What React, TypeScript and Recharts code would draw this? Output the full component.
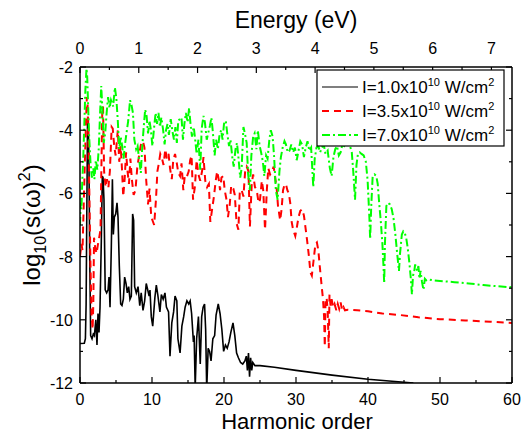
import React from 'react';
import { LineChart, Line, XAxis, YAxis } from 'recharts';

const FONT = '"Liberation Sans", Arial, Helvetica, sans-serif';

// axis ticks
const HARMONIC_TICKS = [0, 5, 10, 15, 20, 25, 30, 35, 40, 45, 50, 55, 60];
const ENERGY_TICKS = [0, 0.5, 1, 1.5, 2, 2.5, 3, 3.5, 4, 4.5, 5, 5.5, 6, 6.5, 7];
const LOG_TICKS = [-12, -11, -10, -9, -8, -7, -6, -5, -4, -3, -2];
const HARMONIC_MAX = 60;
const ENERGY_MAX = 7.35; // eV at harmonic 60

// legend: intensity in units of 10^10 W/cm^2
const INTENSITIES = ['1.0', '3.5', '7.0'];
const COLORS = ['#000000', '#ff0000', '#00ff00'];

// [harmonic order, log10 |s(w)|^2]
const BLACK_PTS: [number, number][] = [
    [0, -10.75], [0.6, -10.74], [0.75, -10.6], [0.85, -9.5], [0.95, -6.5], [1.05, -3.7], [1.15, -3.6],
    [1.25, -5.2], [1.35, -8.0], [1.48, -10.5], [1.67, -10.6], [1.85, -10.45], [2.0, -10.5], [2.2, -10.0],
    [2.36, -10.8], [2.5, -9.8], [2.64, -10.4], [2.78, -9.6], [2.96, -7.5], [3.1, -5.45], [3.2, -5.5],
    [3.33, -6.2], [3.5, -9.05], [3.7, -9.15], [3.9, -9.05], [4.03, -8.65], [4.17, -9.6], [4.35, -7.7],
    [4.5, -5.55], [4.63, -7.3], [4.77, -6.75], [4.96, -6.65], [5.14, -6.3], [5.28, -6.75], [5.46, -8.3],
    [5.65, -9.5], [5.83, -9.55], [6.02, -9.35], [6.2, -8.65], [6.39, -8.85], [6.57, -9.15], [6.76, -8.95],
    [6.94, -9.35], [7.13, -9.25], [7.31, -6.65], [7.45, -6.85], [7.59, -8.95], [7.82, -9.15], [8.06, -8.95],
    [8.3, -9.55], [8.5, -9.15], [8.75, -9.7], [8.98, -9.4], [9.2, -8.85], [9.4, -9.05], [9.6, -9.25],
    [9.72, -9.06], [9.9, -9.9], [10.1, -10.2], [10.4, -9.3], [10.6, -8.9], [10.8, -9.2], [11.1, -9.75],
    [11.3, -9.2], [11.55, -9.35], [11.8, -9.15], [12.0, -9.6], [12.3, -9.75], [12.5, -11.15], [12.75, -10.1],
    [13.0, -9.75], [13.2, -9.25], [13.45, -9.4], [13.6, -10.6], [13.9, -11.05], [14.15, -10.2], [14.4, -9.9],
    [14.6, -9.6], [14.85, -9.4], [15.1, -9.5], [15.3, -9.4], [15.5, -9.8], [15.75, -10.7], [15.85, -10.5],
    [16.0, -12.15], [16.2, -10.6], [16.45, -9.9], [16.7, -11.4], [16.9, -9.9], [17.1, -9.6], [17.3, -9.5],
    [17.45, -10.3], [17.6, -12.2], [17.8, -10.9], [18.0, -11.0], [18.2, -11.3], [18.45, -10.6], [18.7, -10.5],
    [18.9, -9.85], [19.2, -9.5], [19.45, -9.8], [19.7, -10.3], [19.95, -11.0], [20.2, -10.8], [20.45, -10.9],
    [20.7, -10.7], [20.95, -10.4], [21.25, -10.1], [21.5, -10.5], [21.75, -11.05], [22.0, -11.2], [22.3, -11.35],
    [22.6, -11.4], [22.9, -11.3], [23.1, -11.15], [23.25, -11.6], [23.4, -11.05], [23.55, -11.8], [23.7, -11.2],
    [23.85, -11.6], [24.0, -11.35], [24.3, -11.45], [25.0, -11.45], [27.0, -11.5], [30.0, -11.6], [35.0, -11.75],
    [40.0, -11.88], [46.3, -12.0],
];

const RED_PTS: [number, number][] = [
    [0, -8.0], [0.2, -7.6], [0.35, -7.8], [0.5, -6.5], [0.7, -4.8], [0.85, -3.6], [0.95, -2.95], [1.05, -3.2],
    [1.15, -4.2], [1.3, -6.0], [1.45, -8.2], [1.6, -9.8], [1.75, -10.3], [1.85, -9.5], [1.95, -7.4], [2.1, -7.7],
    [2.3, -7.9], [2.5, -7.6], [2.7, -7.35], [2.85, -7.15], [2.95, -5.5], [3.1, -3.3], [3.2, -3.25], [3.35, -5.3],
    [3.55, -5.8], [3.75, -5.55], [3.95, -5.8], [4.15, -5.3], [4.4, -3.9], [4.55, -3.95], [4.75, -4.5], [4.95, -4.8],
    [5.25, -4.0], [5.45, -5.0], [5.65, -4.5], [5.85, -5.3], [6.0, -6.1], [6.2, -5.55], [6.4, -4.7], [6.6, -5.3],
    [6.8, -5.7], [7.0, -4.9], [7.2, -5.55], [7.45, -6.05], [7.7, -5.9], [7.95, -5.2], [8.2, -4.8], [8.5, -4.4],
    [8.75, -4.35], [8.95, -4.55], [9.2, -5.6], [9.45, -6.35], [9.65, -5.85], [9.9, -6.75], [10.3, -7.0],
    [10.55, -6.2], [10.75, -5.3], [10.95, -5.05], [11.15, -4.75], [11.4, -4.9], [11.6, -5.1], [11.85, -4.6],
    [12.05, -4.9], [12.3, -4.75], [12.5, -5.2], [12.75, -5.55], [12.95, -4.95], [13.2, -4.75], [13.45, -5.05],
    [13.65, -5.35], [13.9, -5.45], [14.1, -5.05], [14.35, -5.9], [14.55, -5.45], [14.8, -5.5], [15.1, -5.3],
    [15.3, -4.95], [15.5, -4.8], [15.7, -6.2], [15.95, -5.8], [16.2, -4.95], [16.45, -5.4], [16.7, -5.6],
    [16.95, -5.3], [17.15, -4.85], [17.4, -5.6], [17.65, -5.8], [17.9, -5.7], [18.1, -6.9], [18.35, -6.5],
    [18.6, -6.1], [18.85, -5.6], [19.05, -5.3], [19.3, -5.6], [19.45, -5.9], [19.65, -5.5], [19.9, -5.45],
    [20.1, -5.9], [20.35, -6.2], [20.55, -6.75], [20.8, -6.35], [21.0, -5.75], [21.3, -5.85], [21.5, -6.05],
    [21.75, -6.95], [22.0, -7.15], [22.2, -5.9], [22.45, -5.9], [22.7, -6.1], [22.95, -5.25], [23.15, -5.15],
    [23.4, -5.3], [23.6, -7.05], [23.85, -5.7], [24.05, -5.4], [24.3, -5.8], [24.55, -5.9], [24.8, -6.3],
    [25.0, -6.2], [25.25, -5.6], [25.45, -5.9], [25.7, -7.15], [25.95, -5.9], [26.15, -5.2], [26.4, -5.4],
    [26.65, -5.3], [26.9, -5.15], [27.1, -5.5], [27.3, -5.8], [27.5, -6.4], [27.8, -6.85], [28.0, -6.5],
    [28.2, -5.9], [28.4, -5.73], [28.6, -5.7], [28.8, -5.9], [29.0, -6.0], [29.2, -6.3], [29.4, -6.9],
    [29.6, -7.15], [29.9, -7.35], [30.1, -7.1], [30.35, -6.75], [30.6, -6.55], [30.85, -6.5], [31.1, -6.7],
    [31.3, -7.05], [31.55, -7.5], [31.8, -8.0], [32.0, -8.5], [32.2, -8.6], [32.45, -8.1], [32.7, -7.6],
    [32.9, -7.55], [33.1, -7.8], [33.3, -8.3], [33.55, -8.9], [33.75, -9.35], [33.9, -9.9], [34.0, -10.85],
    [34.1, -9.4], [34.25, -9.3], [34.4, -9.7], [34.55, -10.9], [34.65, -9.2], [34.8, -9.55], [34.95, -9.35],
    [35.15, -9.6], [35.35, -9.5], [35.6, -9.7], [35.8, -9.5], [36.0, -9.65], [36.2, -9.45], [36.4, -9.7],
    [36.6, -9.6], [36.8, -9.7], [37.2, -9.68], [38.5, -9.7], [40.0, -9.73], [42.0, -9.8], [44.5, -9.85],
    [47.0, -9.92], [50.0, -9.98], [53.5, -10.02], [57.0, -10.06], [60.0, -10.1],
];

const GREEN_PTS: [number, number][] = [
    [0, -7.0], [0.1, -6.3], [0.2, -6.5], [0.3, -5.7], [0.45, -4.9], [0.6, -3.8], [0.75, -2.7], [0.9, -2.05],
    [1.0, -2.3], [1.1, -3.0], [1.25, -4.1], [1.45, -5.0], [1.65, -5.5], [1.85, -5.2], [2.0, -5.55], [2.2, -4.95],
    [2.4, -5.25], [2.6, -4.6], [2.8, -3.4], [2.95, -2.6], [3.1, -3.3], [3.3, -4.4], [3.5, -4.1], [3.7, -3.45],
    [3.9, -2.95], [4.1, -3.3], [4.3, -3.05], [4.6, -3.25], [4.85, -2.65], [5.05, -3.0], [5.25, -3.7], [5.45, -4.6],
    [5.65, -4.2], [5.85, -4.5], [6.05, -4.9], [6.25, -4.45], [6.45, -4.1], [6.7, -3.7], [6.95, -3.05], [7.15, -3.2],
    [7.35, -3.45], [7.55, -4.3], [7.8, -4.6], [8.0, -4.5], [8.2, -4.9], [8.45, -5.35], [8.65, -4.5], [8.85, -3.9],
    [9.05, -3.35], [9.25, -3.55], [9.45, -4.1], [9.65, -3.7], [9.85, -4.0], [10.05, -4.5], [10.3, -3.9],
    [10.5, -3.45], [10.7, -3.8], [10.9, -3.45], [11.1, -3.9], [11.3, -3.6], [11.55, -4.0], [11.75, -4.45],
    [11.95, -4.0], [12.15, -3.8], [12.35, -4.15], [12.6, -3.65], [12.85, -4.05], [13.05, -4.3], [13.25, -3.9],
    [13.45, -4.4], [13.65, -3.7], [13.85, -3.65], [14.1, -3.6], [14.3, -4.3], [14.5, -3.8], [14.7, -3.45],
    [14.95, -3.75], [15.15, -3.3], [15.35, -3.8], [15.55, -4.2], [15.8, -3.9], [16.0, -4.3], [16.2, -4.75],
    [16.45, -4.3], [16.7, -5.25], [16.9, -3.95], [17.15, -3.55], [17.35, -3.75], [17.6, -4.3], [17.8, -4.1],
    [18.05, -3.85], [18.25, -3.6], [18.45, -4.05], [18.7, -4.8], [18.9, -4.3], [19.15, -4.6], [19.35, -4.2],
    [19.6, -4.0], [19.8, -4.3], [20.0, -3.8], [20.25, -3.7], [20.45, -4.1], [20.7, -4.5], [20.9, -4.3],
    [21.15, -4.85], [21.35, -5.15], [21.6, -4.6], [21.8, -4.4], [22.0, -4.85], [22.25, -5.5], [22.45, -5.2],
    [22.7, -3.9], [22.9, -4.1], [23.15, -4.4], [23.35, -5.4], [23.6, -5.9], [23.8, -4.8], [24.05, -4.2],
    [24.25, -4.1], [24.5, -4.6], [24.7, -4.0], [24.95, -4.5], [25.15, -4.7], [25.4, -5.0], [25.6, -5.45],
    [25.85, -4.8], [26.05, -4.9], [26.3, -4.3], [26.5, -4.0], [26.75, -4.2], [26.95, -4.8], [27.2, -5.9],
    [27.45, -6.2], [27.7, -5.3], [27.9, -4.85], [28.15, -4.55], [28.4, -4.35], [28.6, -4.45], [28.85, -4.7],
    [29.1, -4.65], [29.35, -4.45], [29.6, -4.7], [29.85, -4.55], [30.1, -4.95], [30.35, -4.65], [30.6, -4.35],
    [30.85, -4.45], [31.1, -4.85], [31.35, -4.55], [31.6, -4.35], [31.85, -4.65], [32.1, -4.55], [32.4, -5.8],
    [32.6, -4.9], [32.85, -4.55], [33.1, -4.5], [33.35, -4.7], [33.6, -4.55], [33.85, -4.45], [34.1, -4.75],
    [34.4, -4.65], [34.7, -5.2], [34.95, -5.45], [35.2, -4.85], [35.45, -4.6], [35.7, -4.5], [35.95, -4.8],
    [36.2, -4.7], [36.45, -4.45], [36.7, -4.5], [36.95, -4.4], [37.2, -4.45], [37.5, -4.5], [37.75, -4.7],
    [37.95, -5.3], [38.2, -6.2], [38.4, -5.1], [38.6, -4.75], [38.85, -4.7], [39.1, -4.75], [39.4, -4.8],
    [39.7, -5.0], [39.95, -5.6], [40.2, -6.8], [40.3, -7.45], [40.45, -6.4], [40.65, -5.45], [40.9, -5.4],
    [41.15, -5.45], [41.35, -5.7], [41.55, -6.3], [41.8, -6.95], [42.0, -7.6], [42.15, -8.3], [42.25, -8.85],
    [42.35, -7.6], [42.55, -6.4], [42.8, -6.3], [43.05, -6.35], [43.3, -6.5], [43.55, -6.8], [43.8, -7.3],
    [44.05, -7.9], [44.3, -8.45], [44.45, -7.9], [44.7, -7.3], [44.9, -7.2], [45.1, -7.25], [45.3, -7.4],
    [45.5, -7.7], [45.75, -8.2], [45.95, -8.7], [46.1, -9.2], [46.25, -8.6], [46.4, -8.5], [46.55, -8.25],
    [46.7, -8.35], [46.85, -8.45], [47.0, -8.3], [47.15, -8.7], [47.3, -8.45], [47.5, -8.8], [47.7, -9.05],
    [47.9, -8.7], [48.1, -8.75], [48.4, -8.72], [49.0, -8.75], [50.0, -8.77], [52.0, -8.81], [54.0, -8.85],
    [56.0, -8.9], [58.0, -8.94], [60.0, -8.97],
];

// e = photon energy of the same harmonic, so a series can also live on the top/right axes
const toRows = (pts: [number, number][]) =>
    pts.map(([h, v]) => ({ h, e: (h * ENERGY_MAX) / HARMONIC_MAX, v }));

const DASHES = [undefined, '7 5', '8 3 2 3'];
const X_AXIS_OF = ['h', 'h', 'e'];
const Y_AXIS_OF = ['l', 'l', 'r'];

// ticks drawn pointing into the plot, labels only on major ticks
const BottomTick = ({ x, y, payload }: any) => {
    const major = payload.value % 10 === 0;
    return (
        <g>
            <line x1={x} y1={y} x2={x} y2={y - (major ? 6 : 3)} stroke="#000" strokeWidth={1.2} />
            {major && (
                <text x={x} y={y + 22} textAnchor="middle" fontSize={16} fontFamily={FONT} fill="#000">
                    {payload.value}
                </text>
            )}
        </g>
    );
};

const TopTick = ({ x, y, payload }: any) => {
    const major = Number.isInteger(payload.value);
    return (
        <g>
            <line x1={x} y1={y} x2={x} y2={y + (major ? 6 : 3)} stroke="#000" strokeWidth={1.2} />
            {major && (
                <text x={x} y={y - 13} textAnchor="middle" fontSize={16} fontFamily={FONT} fill="#000">
                    {payload.value}
                </text>
            )}
        </g>
    );
};

const LeftTick = ({ x, y, payload }: any) => {
    const major = payload.value % 2 === 0;
    return (
        <g>
            <line x1={x} y1={y} x2={x + (major ? 6 : 3)} y2={y} stroke="#000" strokeWidth={1.2} />
            {major && (
                <text x={x - 7} y={y + 6} textAnchor="end" fontSize={16} fontFamily={FONT} fill="#000">
                    {payload.value}
                </text>
            )}
        </g>
    );
};

const RightTick = ({ x, y, payload }: any) => {
    const major = payload.value % 2 === 0;
    return <line x1={x} y1={y} x2={x - (major ? 6 : 3)} y2={y} stroke="#000" strokeWidth={1.2} />;
};

const Overlay = () => (
    <svg
        width={522}
        height={435}
        style={{ position: 'absolute', left: 0, top: 0, pointerEvents: 'none' }}
        fontFamily={FONT}
    >
        <text x={296} y={28} textAnchor="middle" fontSize={23} fill="#000">Energy (eV)</text>
        <text x={297} y={429} textAnchor="middle" fontSize={22} fill="#000">Harmonic order</text>
        <text x={40} y={225} textAnchor="middle" fontSize={24} fill="#000" transform="rotate(-90 40 225)">
            log<tspan dy={6} fontSize={16}>10</tspan>
            <tspan dy={-6}>(s(ω)</tspan>
            <tspan dy={-10} fontSize={16}>2</tspan>
            <tspan dy={10}>)</tspan>
        </text>

        {/* legend */}
        <rect x={317} y={70} width={187} height={76} fill="#fff" stroke="#000" strokeWidth={1.2} />
        {INTENSITIES.map((it, i) => {
            const cy = 87 + i * 24;
            return (
                <g key={it}>
                    <line
                        x1={322}
                        x2={358}
                        y1={cy}
                        y2={cy}
                        stroke={COLORS[i]}
                        strokeWidth={i === 0 ? 1.2 : 2}
                        strokeDasharray={DASHES[i]}
                    />
                    <text x={362} y={cy + 6} fontSize={17} fill="#000">
                        I={it}x10<tspan dy={-7} fontSize={11}>10</tspan>
                        <tspan dy={7}> W/cm</tspan>
                        <tspan dy={-7} fontSize={11}>2</tspan>
                    </text>
                </g>
            );
        })}
    </svg>
);

export default function App() {
    const series = [BLACK_PTS, RED_PTS, GREEN_PTS];
    return (
        <div style={{ position: 'absolute', left: 0, top: 0, width: 522, height: 435, background: '#fff' }}>
            <LineChart width={522} height={435} margin={{ top: 37, right: 0, bottom: 22, left: 40 }}>
                <XAxis
                    xAxisId="h"
                    dataKey="h"
                    type="number"
                    domain={[0, HARMONIC_MAX]}
                    ticks={HARMONIC_TICKS}
                    interval={0}
                    height={30}
                    tickSize={0}
                    tickMargin={0}
                    tickLine={false}
                    axisLine={{ stroke: '#000', strokeWidth: 1.5 }}
                    tick={(p: any) => <BottomTick {...p} />}
                    allowDataOverflow
                />
                <XAxis
                    xAxisId="e"
                    dataKey="e"
                    orientation="top"
                    type="number"
                    domain={[0, ENERGY_MAX]}
                    ticks={ENERGY_TICKS}
                    interval={0}
                    height={30}
                    tickSize={0}
                    tickMargin={0}
                    tickLine={false}
                    axisLine={{ stroke: '#000', strokeWidth: 1.5 }}
                    tick={(p: any) => <TopTick {...p} />}
                    allowDataOverflow
                />
                <YAxis
                    yAxisId="l"
                    type="number"
                    domain={[-12, -2]}
                    ticks={LOG_TICKS}
                    interval={0}
                    width={40}
                    tickSize={0}
                    tickMargin={0}
                    tickLine={false}
                    axisLine={{ stroke: '#000', strokeWidth: 1.5 }}
                    tick={(p: any) => <LeftTick {...p} />}
                    allowDataOverflow
                />
                <YAxis
                    yAxisId="r"
                    orientation="right"
                    type="number"
                    domain={[-12, -2]}
                    ticks={LOG_TICKS}
                    interval={0}
                    width={10}
                    tickSize={0}
                    tickMargin={0}
                    tickLine={false}
                    axisLine={{ stroke: '#000', strokeWidth: 1.5 }}
                    tick={(p: any) => <RightTick {...p} />}
                    allowDataOverflow
                />
                {series.map((pts, i) => (
                    <Line
                        key={i}
                        data={toRows(pts)}
                        dataKey="v"
                        xAxisId={X_AXIS_OF[i]}
                        yAxisId={Y_AXIS_OF[i]}
                        type="linear"
                        stroke={COLORS[i]}
                        strokeWidth={i === 0 ? 1.6 : 2}
                        strokeDasharray={DASHES[i]}
                        dot={false}
                        activeDot={false}
                        isAnimationActive={false}
                    />
                ))}
            </LineChart>
            <Overlay />
        </div>
    );
}
